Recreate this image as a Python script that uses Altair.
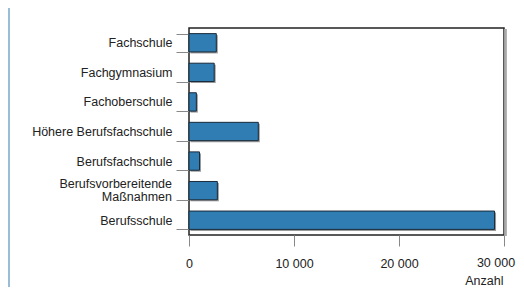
import altair as alt
import pandas as pd

categories = ["Fachschule", "Fachgymnasium", "Fachoberschule", "Höhere Berufsfachschule",
              "Berufsfachschule", "Berufsvorbereitende|Maßnahmen", "Berufsschule"]
values = [2600, 2400, 700, 6600, 1000, 2700, 29100]
x_ticks = [0, 10000, 20000, 30000]

df = pd.DataFrame({"Schulart": categories, "Anzahl": values})
last_tick = pd.DataFrame({"v": [x_ticks[-1]]})

W, H = 315, 207
FONT = "Liberation Sans"
FS = 12.5
XMAX = x_ticks[-1]

yscale = alt.Scale(domain=categories, paddingInner=0.38, paddingOuter=0.19)
xscale = alt.Scale(domain=[0, XMAX], nice=False)

yaxis = alt.Axis(title=None, tickBand="extent", tickSize=13, tickColor="#888", tickWidth=1,
                 labelPadding=4,
                 labelExpr="indexof(datum.label, '|') >= 0 ? '' : datum.label",
                 labelFontSize=FS, labelColor="#222", labelFont=FONT, domain=False, grid=False)
xaxis = alt.Axis(values=x_ticks, title="Anzahl", tickSize=11, tickColor="#888", tickWidth=1,
                 labelPadding=11, labelFontSize=FS, labelColor="#222", labelFont=FONT,
                 labelExpr=f"datum.value >= {XMAX} ? '' : replace(format(datum.value, ','), ',', ' ')",
                 domain=False, grid=False, titleX=W - 1, titleY=45, titleAlign="right",
                 titleBaseline="middle", titleFontSize=FS, titleFontWeight="normal",
                 titleFont=FONT, titleColor="#222", labelFlush=False)

Y = alt.Y("Schulart:N", sort=categories, scale=yscale, axis=yaxis)
X = alt.X("Anzahl:Q", scale=xscale, axis=xaxis)

base = alt.Chart(df)

shadow = base.mark_bar(color="#9a9a9a", xOffset=1.5, x2Offset=1.5, yOffset=1.5, y2Offset=1.5).encode(
    y=Y, x=X)
bars = base.mark_bar(color="#2f7db2", stroke="#1b2b3a", strokeWidth=1).encode(y=Y, x=X)
multi = base.transform_filter("indexof(datum.Schulart, '|') >= 0").mark_text(
    align="right", baseline="middle", dy=-6.5, lineBreak="|", lineHeight=13,
    fontSize=FS, font=FONT, color="#222"
).encode(y=Y, x=alt.value(-17), text="Schulart:N")
last_label = alt.Chart(last_tick).transform_calculate(
    lab="replace(format(datum.v, ','), ',', ' ')"
).mark_text(align="center", baseline="top", dx=-8, fontSize=FS, font=FONT, color="#222").encode(
    x=alt.X("v:Q", scale=xscale, axis=xaxis), y=alt.value(H + 22), text="lab:N")
frame_shadow = base.mark_rule(color="#aaaaaa", strokeWidth=1.5).encode(
    x=alt.value(W + 1.5), y=alt.value(1), y2=alt.value(H + 1)
)
strip = base.mark_rect(color="#98bdd5").encode(
    x=alt.value(-181), x2=alt.value(-179), y=alt.value(-20), y2=alt.value(260)
)

chart = alt.layer(strip, frame_shadow, shadow, bars, multi, last_label).properties(
    width=W, height=H,
    autosize=alt.AutoSizeParams(type="none"),
    padding={"left": 181, "top": 20, "right": 12, "bottom": 52},
).configure(background="#ffffff").configure_view(stroke="#222222", strokeWidth=1.5)

chart.save("out.html", embed_options={"renderer": "svg", "actions": False})
